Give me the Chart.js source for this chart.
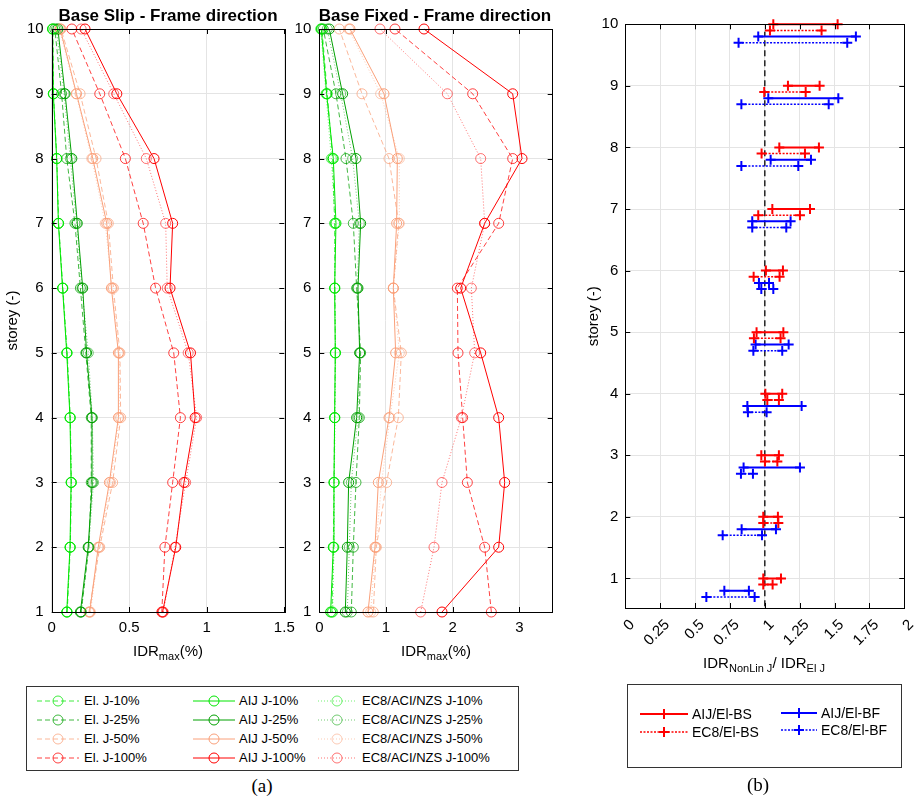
<!DOCTYPE html>
<html>
<head>
<meta charset="utf-8">
<script src="https://cdn.jsdelivr.net/npm/chart.js@4.4.1/dist/chart.umd.min.js"></script>
<style>
  body { margin:0; background:#fff; width:914px; height:797px; position:relative; overflow:hidden;
         font-family:'Liberation Sans', Arial, sans-serif; color:#000; }
  canvas { position:absolute; top:0; }
  .lbl { position:absolute; white-space:nowrap; transform:translate(-50%,-50%); }
  .ttl { font-weight:bold; font-size:17px; }
  .axt { font-size:15px; }
  .axt sub { font-size:11px; vertical-align:-4px; line-height:0; }
  .cap { font-family:'Liberation Serif','Times New Roman',serif; font-size:19px; }
  .box { position:absolute; border:1px solid #333; box-sizing:border-box; }
  .lt { position:absolute; white-space:nowrap; line-height:16px; }
  svg { position:absolute; overflow:visible; }
</style>
</head>
<body>
<canvas id="slip" width="300" height="680" style="left:0"></canvas>
<canvas id="fixed" width="285" height="680" style="left:285px"></canvas>
<canvas id="ratio" width="339" height="680" style="left:575px"></canvas>

<div class="lbl ttl" style="left:168px;top:16px">Base Slip - Frame direction</div>
<div class="lbl ttl" style="left:435px;top:16px">Base Fixed - Frame direction</div>
<div class="lbl axt" style="left:168px;top:650px">IDR<sub>max</sub>(%)</div>
<div class="lbl axt" style="left:436px;top:650px">IDR<sub>max</sub>(%)</div>
<div class="lbl axt" style="left:764px;top:662px">IDR<sub>NonLin J</sub>/ IDR<sub>El J</sub></div>
<div class="box" style="left:26px;top:686px;width:493px;height:85px"></div>
<div class="box" style="left:627px;top:684px;width:275px;height:84px"></div>
<div class="lbl cap" style="left:262px;top:786px">(a)</div>
<div class="lbl cap" style="left:758px;top:785px">(b)</div>
<div id="legends"></div>

<script>
  const storeys = [1, 2, 3, 4, 5, 6, 7, 8, 9, 10];
  const levels = ["J-10%", "J-25%", "J-50%", "J-100%"];
  const methods = ["El.", "AIJ", "EC8/ACI/NZS"];

  // IDRmax (%) per storey 1..10, one row per joint level
  const bsEl = [
    [0.10, 0.12, 0.127, 0.12, 0.10, 0.072, 0.045, 0.033, 0.012, 0.008],
    [0.19, 0.24, 0.255, 0.255, 0.22, 0.185, 0.15, 0.097, 0.064, 0.02],
    [0.24, 0.31, 0.393, 0.445, 0.44, 0.398, 0.365, 0.286, 0.183, 0.06],
    [0.71, 0.73, 0.78, 0.83, 0.787, 0.67, 0.59, 0.475, 0.31, 0.13],
  ];
  const bsAij = [
    [0.097, 0.118, 0.125, 0.118, 0.097, 0.07, 0.043, 0.032, 0.01, 0.005],
    [0.185, 0.235, 0.262, 0.26, 0.225, 0.20, 0.165, 0.13, 0.086, 0.04],
    [0.245, 0.30, 0.372, 0.43, 0.43, 0.385, 0.355, 0.265, 0.16, 0.055],
    [0.715, 0.80, 0.853, 0.925, 0.895, 0.763, 0.78, 0.66, 0.42, 0.215],
  ];
  const bsEc8 = [
    [0.098, 0.119, 0.126, 0.119, 0.098, 0.071, 0.044, 0.033, 0.011, 0.006],
    [0.19, 0.238, 0.27, 0.262, 0.236, 0.195, 0.16, 0.12, 0.08, 0.03],
    [0.25, 0.305, 0.38, 0.435, 0.435, 0.39, 0.345, 0.258, 0.157, 0.05],
    [0.72, 0.795, 0.864, 0.935, 0.88, 0.745, 0.735, 0.61, 0.40, 0.19],
  ];
  const bfEl = [
    [0.19, 0.21, 0.22, 0.23, 0.24, 0.235, 0.23, 0.20, 0.12, 0.04],
    [0.48, 0.51, 0.55, 0.60, 0.62, 0.56, 0.51, 0.40, 0.25, 0.06],
    [0.81, 0.855, 1.01, 1.185, 1.23, 1.11, 1.19, 1.045, 0.64, 0.30],
    [2.58, 2.48, 2.22, 2.15, 2.08, 2.07, 2.69, 2.90, 2.30, 1.135],
  ];
  const bfAij = [
    [0.17, 0.21, 0.22, 0.23, 0.24, 0.23, 0.25, 0.21, 0.11, 0.03],
    [0.39, 0.42, 0.44, 0.56, 0.605, 0.58, 0.62, 0.55, 0.35, 0.15],
    [0.73, 0.835, 0.885, 1.045, 1.145, 1.11, 1.16, 1.17, 0.97, 0.46],
    [1.84, 2.69, 2.78, 2.69, 2.42, 2.12, 2.48, 3.04, 2.90, 1.57],
  ];
  const bfEc8 = [
    [0.20, 0.22, 0.225, 0.235, 0.245, 0.23, 0.24, 0.18, 0.10, 0.02],
    [0.42, 0.45, 0.48, 0.58, 0.61, 0.57, 0.60, 0.50, 0.32, 0.12],
    [0.77, 0.845, 0.935, 1.06, 1.20, 1.11, 1.20, 1.20, 0.92, 0.44],
    [1.52, 1.72, 1.84, 2.13, 2.33, 2.28, 2.48, 2.42, 1.92, 0.91],
  ];

  // IDR ratio ranges [low, high] per storey 1..10
  const ratioNames = ["AIJ/El-BS", "EC8/El-BS", "AIJ/El-BF", "EC8/El-BF"];
  const aijBs = [[0.989, 1.116], [0.989, 1.094], [0.975, 1.101], [1.004, 1.125], [0.941, 1.133],
    [1.008, 1.13], [1.054, 1.324], [1.104, 1.388], [1.166, 1.393], [1.061, 1.522]];
  const ec8Bs = [[0.989, 1.056], [0.989, 1.097], [1.001, 1.09], [1.018, 1.101], [0.922, 1.113],
    [0.92, 1.106], [0.953, 1.252], [0.977, 1.288], [0.996, 1.293], [1.037, 1.407]];
  const aijBf = [[0.71, 0.886], [0.834, 1.08], [0.848, 1.252], [0.875, 1.264], [0.934, 1.171],
    [0.958, 1.03], [0.91, 1.185], [1.042, 1.331], [1.025, 1.527], [0.953, 1.653]];
  const ec8Bf = [[0.581, 0.927], [0.698, 0.98], [0.829, 0.915], [0.879, 1.013], [0.918, 1.125],
    [0.975, 1.061], [0.91, 1.154], [0.832, 1.24], [0.832, 1.458], [0.812, 1.591]];
  const rowShift = [0, -0.1, -0.2, -0.3];

  // styling
  const levelRgb = ["0,230,0", "0,160,0", "250,160,122", "255,0,0"];
  const methodStyle = [
    { dash: [5, 3], alpha: 0.75 },
    { dash: [], alpha: 1 },
    { dash: [1, 2], alpha: 0.55 },
  ];
  const ratioStyle = [
    { color: "#ff0000", dash: [], width: 2 },
    { color: "#ff0000", dash: [2, 1.5], width: 1.5 },
    { color: "#0000ff", dash: [], width: 2 },
    { color: "#0000ff", dash: [2, 1.5], width: 1.5 },
  ];

  Chart.defaults.font.family = "'Liberation Sans', Arial, sans-serif";
  Chart.defaults.font.size = 15;
  Chart.defaults.color = "#000";
  Chart.defaults.animation = false;
  Chart.defaults.events = [];
  Chart.defaults.plugins.legend.display = false;
  Chart.defaults.plugins.tooltip.enabled = false;

  // box frame with inward ticks on all four sides
  const frameTicks = {
    id: "frameTicks",
    afterDraw(chart) {
      const { ctx, chartArea: a, scales } = chart;
      const len = 5;
      ctx.save();
      ctx.strokeStyle = "#000";
      ctx.lineWidth = 1;
      ctx.beginPath();
      scales.x.ticks.forEach((t) => {
        const px = Math.round(scales.x.getPixelForValue(t.value)) + 0.5;
        ctx.moveTo(px, a.bottom); ctx.lineTo(px, a.bottom - len);
        ctx.moveTo(px, a.top); ctx.lineTo(px, a.top + len);
      });
      scales.y.ticks.forEach((t) => {
        const py = Math.round(scales.y.getPixelForValue(t.value)) + 0.5;
        ctx.moveTo(a.left, py); ctx.lineTo(a.left + len, py);
        ctx.moveTo(a.right, py); ctx.lineTo(a.right - len, py);
      });
      ctx.stroke();
      ctx.strokeRect(Math.round(a.left) + 0.5, Math.round(a.top) + 0.5,
        Math.round(a.width), Math.round(a.height));
      ctx.restore();
    },
  };

  const gridStyle = { color: "#e4e4e4", drawTicks: false };
  const plain = (v) => String(v);

  function profileDatasets(groups) {
    const sets = [];
    groups.forEach((rows, m) => {
      rows.forEach((vals, l) => {
        const c = `rgba(${levelRgb[l]},${methodStyle[m].alpha})`;
        sets.push({
          label: `${methods[m]} ${levels[l]}`,
          data: vals.map((v, i) => ({ x: v, y: storeys[i] })),
          borderColor: c,
          borderWidth: 1,
          borderDash: methodStyle[m].dash,
          pointStyle: "circle",
          pointRadius: 5,
          pointBorderWidth: 1,
          pointBorderColor: c,
          pointBackgroundColor: "transparent",
          clip: false,
        });
      });
    });
    return sets;
  }

  function profileChart(id, groups, xMax, xStep, padRight, yWidth, yTitle) {
    return new Chart(document.getElementById(id), {
      type: "line",
      data: { datasets: profileDatasets(groups) },
      options: {
        responsive: false,
        devicePixelRatio: 1,
        layout: { padding: { left: 0, top: 29, right: padRight, bottom: 0 } },
        scales: {
          x: {
            type: "linear", min: 0, max: xMax,
            grid: gridStyle, border: { display: false },
            ticks: { stepSize: xStep, includeBounds: false, padding: 7, callback: plain },
            afterFit: (s) => { s.height = 68; s.paddingLeft = 0; s.paddingRight = 0; },
          },
          y: {
            type: "linear", min: 1, max: 10,
            grid: gridStyle, border: { display: false },
            ticks: { stepSize: 1, padding: 8, callback: plain },
            title: { display: yTitle, text: "storey (-)", font: { size: 15 }, padding: { top: 4 } },
            afterFit: (s) => { s.width = yWidth; s.paddingTop = 0; s.paddingBottom = 0; },
          },
        },
      },
      plugins: [frameTicks],
    });
  }

  profileChart("slip", [bsEl, bsAij, bsEc8], 1.5, 0.5, 15.7, 51.7, true);
  profileChart("fixed", [bfEl, bfAij, bfEc8], 3.5, 1, 17.3, 34.3, false);

  // ratio ranges: one segment per storey, broken by null points
  const ratioGroups = [aijBs, ec8Bs, aijBf, ec8Bf];
  const ratioSets = ratioGroups.map((pairs, k) => {
    const pts = [];
    pairs.forEach(([lo, hi], i) => {
      const y = storeys[i] + rowShift[k];
      pts.push({ x: lo, y }, { x: hi, y }, { x: hi, y: null });
    });
    const st = ratioStyle[k];
    return {
      label: ratioNames[k],
      data: pts,
      borderColor: st.color,
      borderWidth: st.width,
      borderDash: st.dash,
      pointStyle: "cross",
      pointRadius: 5,
      pointBorderWidth: 2,
      pointBorderColor: st.color,
      spanGaps: false,
      clip: false,
    };
  });
  ratioSets.push({
    label: "unity",
    data: [{ x: 1, y: 0.55 }, { x: 1, y: 9.88 }],
    borderColor: "#222",
    borderWidth: 1.5,
    borderDash: [6, 4],
    pointRadius: 0,
  });

  new Chart(document.getElementById("ratio"), {
    type: "line",
    data: { datasets: ratioSets },
    options: {
      responsive: false,
      devicePixelRatio: 1,
      layout: { padding: { left: 0, top: 24.3, right: 9.7, bottom: 0 } },
      scales: {
        x: {
          type: "linear", min: 0, max: 2,
          grid: gridStyle, border: { display: false },
          ticks: { stepSize: 0.25, autoSkip: false, minRotation: 45, maxRotation: 45,
                   padding: 8, labelOffset: 7, callback: plain },
          afterFit: (s) => { s.height = 72; s.paddingLeft = 0; s.paddingRight = 0; },
        },
        y: {
          type: "linear", min: 0.52, max: 10,
          grid: gridStyle, border: { display: false },
          afterBuildTicks: (s) => { s.ticks = storeys.map((v) => ({ value: v })); },
          ticks: { padding: 7, callback: plain },
          title: { display: true, text: "storey (-)", font: { size: 15 }, padding: { top: 10 } },
          afterFit: (s) => { s.width = 50.3; s.paddingTop = 0; s.paddingBottom = 0; },
        },
      },
    },
    plugins: [frameTicks],
  });

  // legends
  const host = document.getElementById("legends");
  const dashAttr = (d) => (d.length ? `stroke-dasharray="${d.join(" ")}"` : "");

  function addSample(x1, x2, y, svgBody) {
    const w = x2 - x1;
    host.insertAdjacentHTML("beforeend",
      `<svg width="${w}" height="12" style="left:${x1}px;top:${y - 6}px">${svgBody(w)}</svg>`);
  }
  function addText(x, y, text, size) {
    host.insertAdjacentHTML("beforeend",
      `<div class="lt" style="left:${x}px;top:${y - 8}px;font-size:${size}px">${text}</div>`);
  }

  const colsA = [{ x1: 37, x2: 79, tx: 84 }, { x1: 193, x2: 235, tx: 239 }, { x1: 318, x2: 356, tx: 362 }];
  const rowsA = [701, 719.5, 738.5, 757.5];
  methods.forEach((m, mi) => {
    levels.forEach((lv, li) => {
      const c = `rgba(${levelRgb[li]},${methodStyle[mi].alpha})`;
      const col = colsA[mi];
      const y = rowsA[li];
      addSample(col.x1, col.x2, y, (w) =>
        `<line x1="0" y1="6" x2="${w}" y2="6" stroke="${c}" stroke-width="1" ${dashAttr(methodStyle[mi].dash)}/>` +
        `<circle cx="${w / 2}" cy="6" r="5" fill="none" stroke="${c}" stroke-width="1"/>`);
      addText(col.tx, y, `${m} ${lv}`, 13);
    });
  });

  const slotsB = [
    { x1: 640, x2: 688, tx: 692, y: 714 },
    { x1: 640, x2: 688, tx: 692, y: 732 },
    { x1: 781, x2: 817, tx: 821, y: 713 },
    { x1: 781, x2: 817, tx: 821, y: 730 },
  ];
  ratioNames.forEach((name, k) => {
    const s = slotsB[k];
    const st = ratioStyle[k];
    addSample(s.x1, s.x2, s.y, (w) =>
      `<line x1="0" y1="6" x2="${w}" y2="6" stroke="${st.color}" stroke-width="${st.width}" ${dashAttr(st.dash)}/>` +
      `<line x1="${w / 2 - 5}" y1="6" x2="${w / 2 + 5}" y2="6" stroke="${st.color}" stroke-width="2"/>` +
      `<line x1="${w / 2}" y1="1" x2="${w / 2}" y2="11" stroke="${st.color}" stroke-width="2"/>`);
    addText(s.tx, s.y, name, 14);
  });
</script>
</body>
</html>
